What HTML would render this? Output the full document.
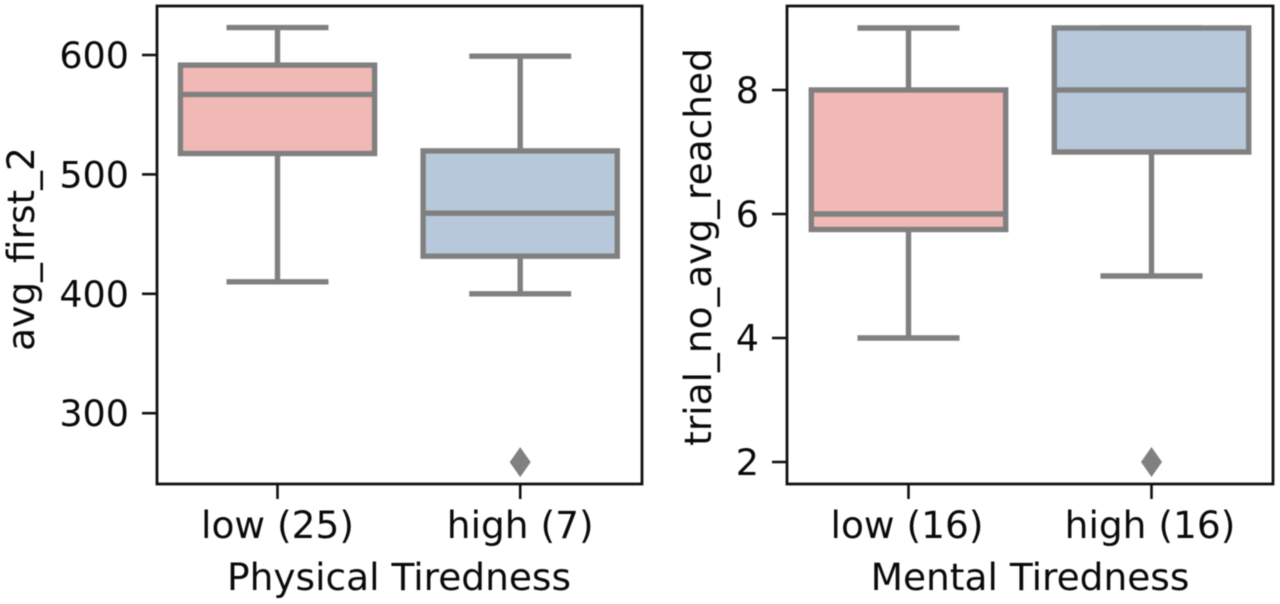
<!DOCTYPE html>
<html>
<head>
<meta charset="utf-8">
<style>
html,body{margin:0;padding:0;background:#fff;width:1280px;height:604px;overflow:hidden}
svg{display:block;filter:blur(0.6px)}
text{font-family:"DejaVu Sans","Liberation Sans",sans-serif;fill:#0a0a0a}
</style>
</head>
<body>
<svg id="chart" width="1280" height="604" viewBox="0 0 1280 604" xmlns="http://www.w3.org/2000/svg"></svg>
<script>
// Left panel data
const physicalCategories = ['low (25)', 'high (7)'];
const physicalWhiskerLow = [410, 400];
const physicalQ1 = [517.5, 431.5];
const physicalMedian = [567, 467.5];
const physicalQ3 = [591.5, 519.7];
const physicalWhiskerHigh = [623, 599];
const physicalFliers = [[], [259]];
const physicalTicks = [300, 400, 500, 600];
const physicalXLabel = 'Physical Tiredness';
const physicalYLabel = 'avg_first_2';

// Right panel data
const mentalCategories = ['low (16)', 'high (16)'];
const mentalWhiskerLow = [4, 5];
const mentalQ1 = [5.75, 7];
const mentalMedian = [6, 8];
const mentalQ3 = [8, 9];
const mentalWhiskerHigh = [9, 9];
const mentalFliers = [[], [2]];
const mentalTicks = [2, 4, 6, 8];
const mentalXLabel = 'Mental Tiredness';
const mentalYLabel = 'trial_no_avg_reached';

const NS = 'http://www.w3.org/2000/svg';
const svg = document.getElementById('chart');
const GRAY = '#808080';
const FILLS = ['#f0b9b6', '#b6c8da'];

function mk(parent, tag, attrs, text) {
  const el = document.createElementNS(NS, tag);
  for (const k in attrs) el.setAttribute(k, attrs[k]);
  if (text !== undefined) el.textContent = text;
  parent.appendChild(el);
  return el;
}

function drawPanel(p) {
  const g = mk(svg, 'g', {});
  
  

  // axis functions: category index -> x, value -> y
  const sx = i => p.x0 + p.xStep * i;
  const sy = v => p.yRef + (p.vRef - v) * p.yScale;
  const boxW = p.xStep * 0.8;
  const capW = boxW * 0.525;

  p.categories.forEach((cat, i) => {
    const b = mk(g, 'g', {});
    
    
    const cx = sx(i);
    const line = (x1, y1, x2, y2) => mk(b, 'line', {x1, y1, x2, y2, stroke: GRAY, 'stroke-width': 5.4});
    line(cx, sy(p.q3[i]), cx, sy(p.hi[i]));
    line(cx, sy(p.q1[i]), cx, sy(p.lo[i]));
    line(cx - capW / 2, sy(p.hi[i]), cx + capW / 2, sy(p.hi[i]));
    line(cx - capW / 2, sy(p.lo[i]), cx + capW / 2, sy(p.lo[i]));
    mk(b, 'rect', {x: cx - boxW / 2, y: sy(p.q3[i]), width: boxW, height: sy(p.q1[i]) - sy(p.q3[i]), fill: FILLS[i], stroke: GRAY, 'stroke-width': 5.4});
    line(cx - boxW / 2, sy(p.med[i]), cx + boxW / 2, sy(p.med[i]));
    p.fliers[i].forEach(v => {
      const y = sy(v);
      const d = mk(b, 'polygon', {points: `${cx},${y - 15} ${cx + 10.5},${y} ${cx},${y + 15} ${cx - 10.5},${y}`, fill: GRAY});
      
      
    });

    const tick = mk(g, 'line', {x1: cx, y1: p.bottom, x2: cx, y2: p.bottom + 15, stroke: '#111', 'stroke-width': 2.6});
    
    
    const lab = mk(g, 'text', {x: cx + p.labelShift, y: 538, 'text-anchor': 'middle', 'font-size': 37.5}, cat);
    
    
  });

  p.ticks.forEach(v => {
    const y = sy(v);
    const tick = mk(g, 'line', {x1: p.left - 15, y1: y, x2: p.left, y2: y, stroke: '#111', 'stroke-width': 2.6});
    
    
    const lab = mk(g, 'text', {x: p.left - 28, y: y + 13, 'text-anchor': 'end', 'font-size': 36.5}, String(v));
    
    
  });

  const frame = mk(g, 'rect', {x: p.left, y: p.top, width: p.right - p.left, height: p.bottom - p.top, fill: 'none', stroke: '#111', 'stroke-width': 2.8});
  
  

  const xl = mk(g, 'text', {x: p.xLabelX, y: 590, 'text-anchor': 'middle', 'font-size': 37.5}, p.xLabel);
  
  
  const yl = mk(g, 'text', {x: 0, y: 0, 'text-anchor': 'middle', 'font-size': 37.5, transform: `translate(${p.yLabelX},${p.yLabelY}) rotate(-90)`}, p.yLabel);
  
  
}

drawPanel({
  name: 'physical-tiredness-panel', left: 157, right: 642, top: 6, bottom: 484,
  x0: 277.5, xStep: 242.7, yRef: 55, vRef: 600, yScale: 1.194, labelShift: 0,
  categories: physicalCategories, lo: physicalWhiskerLow, q1: physicalQ1, med: physicalMedian,
  q3: physicalQ3, hi: physicalWhiskerHigh, fliers: physicalFliers, ticks: physicalTicks,
  xLabel: physicalXLabel, yLabel: physicalYLabel, xLabelX: 399, yLabelX: 34, yLabelY: 249
});
drawPanel({
  name: 'mental-tiredness-panel', left: 787, right: 1273, top: 6, bottom: 484,
  x0: 908.5, xStep: 243, yRef: 90, vRef: 8, yScale: 62, labelShift: -1.5,
  categories: mentalCategories, lo: mentalWhiskerLow, q1: mentalQ1, med: mentalMedian,
  q3: mentalQ3, hi: mentalWhiskerHigh, fliers: mentalFliers, ticks: mentalTicks,
  xLabel: mentalXLabel, yLabel: mentalYLabel, xLabelX: 1030, yLabelX: 711, yLabelY: 247
});
</script>
</body>
</html>
